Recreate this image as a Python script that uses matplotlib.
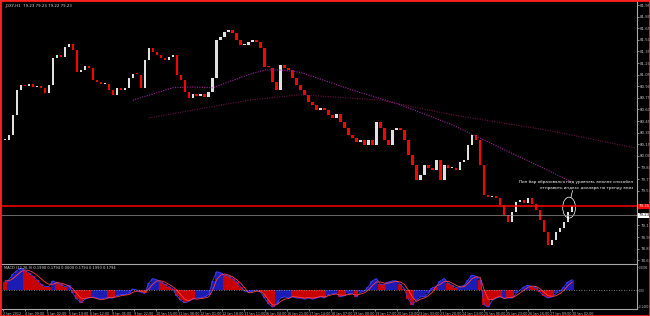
import matplotlib
matplotlib.use('Agg')
import matplotlib.pyplot as plt
from matplotlib.patches import Ellipse, Rectangle
import numpy as np

# _DXY H1, each candle here = 3 hourly bars
closes = [80.20, 80.27, 80.53, 80.85, 80.92, 80.90, 80.93, 80.89, 80.90, 80.88,
          80.81, 80.92, 81.27, 81.30, 81.28, 81.41, 81.45, 81.37, 81.08, 81.11,
          81.16, 81.14, 80.98, 80.95, 80.93, 80.93, 80.85, 80.79, 80.88, 80.85,
          80.88, 81.01, 81.06, 81.05, 80.88, 81.24, 81.39, 81.34, 81.30, 81.27,
          81.24, 81.28, 81.30, 81.05, 80.98, 80.83, 80.75, 80.80, 80.77, 80.80,
          80.76, 80.83, 81.01, 81.50, 81.54, 81.60, 81.63, 81.59, 81.50, 81.43,
          81.43, 81.47, 81.50, 81.47, 81.39, 81.15, 81.14, 80.95, 80.85, 81.17,
          81.14, 81.11, 81.01, 80.92, 80.85, 80.79, 80.70, 80.66, 80.59, 80.62,
          80.59, 80.53, 80.49, 80.54, 80.44, 80.36, 80.27, 80.23, 80.18, 80.20,
          80.14, 80.20, 80.14, 80.44, 80.36, 80.20, 80.14, 80.33, 80.36, 80.33,
          80.20, 80.01, 79.88, 79.69, 79.75, 79.88, 79.84, 79.82, 79.95, 79.69,
          79.88, 79.84, 79.84, 79.82, 79.92, 79.95, 80.14, 80.27, 80.20, 79.88,
          79.49, 79.47, 79.48, 79.45, 79.36, 79.23, 79.14, 79.27, 79.40, 79.43,
          79.39, 79.45, 79.38, 79.30, 79.17, 79.01, 78.85, 78.91, 79.01, 79.07,
          79.14, 79.27, 79.35]

macd = [0.07, 0.09, 0.14, 0.17, 0.19, 0.17, 0.15, 0.12, 0.09, 0.05,
        0.03, 0.03, 0.08, 0.06, 0.05, 0.03, 0.04, -0.03, -0.08, -0.11,
        -0.08, -0.07, -0.06, -0.07, -0.08, -0.07, -0.07, -0.07, -0.05, -0.04,
        -0.04, -0.03, 0.01, 0.0, -0.02, -0.03, 0.06, 0.10, 0.09, 0.07,
        0.05, 0.03, 0.01, -0.05, -0.09, -0.11, -0.10, -0.08, -0.07, -0.07,
        -0.06, -0.04, 0.08, 0.16, 0.15, 0.13, 0.12, 0.10, 0.07, 0.03,
        -0.01, -0.02, -0.01, 0.0, -0.02, -0.07, -0.12, -0.15, -0.12, -0.07,
        -0.06, -0.07, -0.06, -0.07, -0.07, -0.08, -0.07, -0.08, -0.07, -0.06,
        -0.07, -0.04, -0.03, -0.03, -0.06, -0.05, -0.03, -0.03, -0.06, -0.02,
        -0.01, 0.03, 0.08, 0.10, 0.05, 0.05, 0.07, 0.08, 0.08, 0.05,
        0.01, -0.08, -0.13, -0.09, -0.06, -0.06, -0.03, 0.02, 0.03, 0.08,
        0.10, 0.06, 0.04, 0.02, 0.03, 0.04, 0.09, 0.13, 0.12, 0.09,
        -0.13, -0.15, -0.09, -0.07, -0.06, -0.07, -0.07, -0.07, -0.03, 0.0,
        0.03, 0.04, 0.03, 0.02, -0.02, -0.05, -0.07, -0.06, -0.03, -0.01,
        0.03, 0.07, 0.09]

signal = [0.08, 0.08, 0.10, 0.13, 0.16, 0.175, 0.17, 0.155, 0.13, 0.10,
          0.07, 0.05, 0.05, 0.065, 0.06, 0.05, 0.035, 0.01, -0.03, -0.07,
          -0.075, -0.065, -0.065, -0.075, -0.085, -0.08, -0.065, -0.065, -0.06, -0.05,
          -0.045, -0.04, -0.02, -0.01, -0.01, -0.02, 0.01, 0.05, 0.08, 0.08,
          0.07, 0.05, 0.03, 0.0, -0.04, -0.08, -0.095, -0.075, -0.08, -0.075,
          -0.07, -0.06, 0.0, 0.09, 0.13, 0.14, 0.13, 0.115, 0.09, 0.06,
          0.02, -0.025, -0.02, -0.01, -0.01, -0.04, -0.09, -0.13, -0.13, -0.10,
          -0.08, -0.075, -0.055, -0.06, -0.065, -0.07, -0.065, -0.07, -0.065, -0.055,
          -0.06, -0.05, -0.04, -0.035, -0.045, -0.045, -0.04, -0.035, -0.045, -0.035,
          -0.025, 0.0, 0.04, 0.07, 0.07, 0.06, 0.06, 0.07, 0.075, 0.07,
          0.05, 0.0, -0.06, -0.10, -0.08, -0.07, -0.05, -0.02, 0.035, 0.05,
          0.075, 0.075, 0.06, 0.04, 0.025, 0.03, 0.06, 0.10, 0.115, 0.11,
          0.0, -0.08, -0.085, -0.065, -0.055, -0.075, -0.065, -0.065, -0.05, -0.025,
          0.0, 0.025, 0.035, 0.03, 0.01, -0.02, -0.05, -0.055, -0.05, -0.03,
          0.0, 0.04, 0.07]

fast_ma_idx = [32, 42, 47, 52, 61, 65, 69, 74, 87, 99, 112, 125, 132, 142]
fast_ma = [80.72, 80.88, 80.89, 80.88, 81.05, 81.11, 81.11, 81.08, 80.85, 80.66, 80.40, 80.08, 79.91, 79.66]
slow_ma_idx = [36, 61, 74, 94, 112, 136, 158]
slow_ma = [80.49, 80.72, 80.79, 80.72, 80.53, 80.33, 80.10]

level = 79.35
bid = 79.23
macd_marks = [0.2006, 0.0, -0.1480]
time_labels = ['2 Jan 2012', '4 Jan 09:00', '5 Jan 02:00', '5 Jan 19:00', '6 Jan 12:00',
               '9 Jan 05:00', '9 Jan 22:00', '10 Jan 15:00', '11 Jan 08:00', '12 Jan 01:00',
               '12 Jan 18:00', '13 Jan 11:00', '16 Jan 04:00', '16 Jan 21:00', '17 Jan 14:00',
               '18 Jan 07:00', '19 Jan 00:00', '19 Jan 17:00', '20 Jan 10:00', '23 Jan 03:00',
               '23 Jan 20:00', '24 Jan 13:00', '25 Jan 06:00', '25 Jan 23:00', '26 Jan 16:00',
               '27 Jan 09:00', '30 Jan 02:00']
note = 'Пин бар образовался под уровнем, вполне способен\nотправить индекс доллара по тренду вниз'

W, H = 650, 316
def box(x0, y0, x1, y1):
    return [x0 / W, 1 - y1 / H, (x1 - x0) / W, (y1 - y0) / H]

fig = plt.figure(figsize=(6.5, 3.16), dpi=100, facecolor='black')
ax = fig.add_axes(box(1, 1, 637, 263))
axm = fig.add_axes(box(1, 264, 637, 309), sharex=ax)

grey = '#c0c0c0'
for a in (ax, axm):
    a.set_facecolor('black')
    a.spines['left'].set_visible(False)
    a.spines['right'].set_color('#a8a8a8')
    a.spines['right'].set_linewidth(0.8)
    a.yaxis.tick_right()
    a.tick_params(axis='y', colors=grey, labelsize=2.8, length=1.5, width=0.5, pad=0.8)
ax.spines['top'].set_visible(False)
ax.spines['bottom'].set_visible(False)
for s in ('top', 'bottom'):
    axm.spines[s].set_color('#a8a8a8')
    axm.spines[s].set_linewidth(0.8)

x = np.arange(len(closes))
c = np.array(closes)
o = np.r_[c[0], c[:-1]]
up = c >= o
body = np.where(np.abs(c - o) < 0.012, 0.012, c - o)
ax.bar(x, body, bottom=o, width=0.6, color=np.where(up, '#e0e0e0', '#ff0000'), linewidth=0)

ax.plot(fast_ma_idx, fast_ma, color='#a020a0', ls=(0, (1, 1.2)), lw=0.8)
ax.plot(slow_ma_idx, slow_ma, color='#6a1040', ls=(0, (1, 1.2)), lw=0.8)

ax.axhline(level, color='#ff0000', lw=1.1)
ax.axhline(bid, color='#909090', lw=0.5)

ax.set_xlim(-1, 158.25)
ax.set_ylim(78.614, 82.002)
ticks = np.round(np.arange(78.65, 81.96, 0.15), 2)
ticks = [t for t in ticks if abs(t - level) > 0.06 and abs(t - bid) > 0.06]
ax.set_yticks(ticks)
ax.set_yticklabels(['%.2f' % t for t in ticks])
ax.tick_params(axis='x', bottom=False, labelbottom=False)

ytr = ax.get_yaxis_transform()
ax.text(1.002, level, '%.2f' % level, transform=ytr, ha='left', va='center', fontsize=2.8,
        color='white', bbox=dict(boxstyle='square,pad=0.15', fc='#ff0000', ec='none'), clip_on=False)
ax.text(1.002, bid, '%.2f' % bid, transform=ytr, ha='left', va='center', fontsize=2.8,
        color='black', bbox=dict(boxstyle='square,pad=0.15', fc='white', ec='none'), clip_on=False)

ax.text(0.005, 0.992, '_DXY,H1  79.23 79.23 79.22 79.23', transform=ax.transAxes,
        fontsize=2.8, color='#d8d8d8', va='top', ha='left')

# annotation around the last candle
n = len(closes)
ax.add_patch(Ellipse((n - 1.75, closes[-1] - 0.02), 3.2, 0.27, fill=False, ec='white', lw=0.5))
ax.plot([n - 1.3, n - 0.9], [closes[-1] + 0.11, closes[-1] + 0.2], color='white', lw=0.5)
ax.text(0.994, 0.298, note, transform=ax.transAxes, ha='right', va='center', fontsize=3.0,
        color='white', multialignment='right', linespacing=1.8)

# MACD panel
col = np.where(np.array(macd) > np.array(signal), '#1c1cb4', '#c80000')
axm.bar(x, macd, width=1.0, color=col, linewidth=0)
axm.plot(x, macd, color='#4040ff', lw=0.6)
axm.plot(x, signal, color='#ff4040', lw=0.6)
axm.axhline(0, color='#a0a0a0', ls=(0, (1, 2)), lw=0.6)
axm.set_ylim(-0.1656, 0.2268)
axm.set_yticks(macd_marks)
axm.set_yticklabels(['%.4f' % macd_marks[0], '0.00', '%.4f' % macd_marks[2]])
axm.tick_params(axis='y', labelsize=2.0, length=1, pad=0.3)
axm.text(0.005, 0.96, 'MACD (12,26,9) 0.1990 0.1794 0.0000 0.1794 0.1990 0.1794',
         transform=axm.transAxes, fontsize=2.6, color='#d8d8d8', va='top', ha='left')

pos = -0.5 + 5.475 * np.arange(len(time_labels))
axm.set_xticks(pos)
axm.set_xticklabels(time_labels)
axm.tick_params(axis='x', colors=grey, labelsize=2.4, length=1.5, width=0.5, pad=0.4)
for lab in axm.get_xticklabels():
    lab.set_ha('left')

fig.patches.append(Rectangle((0, 0), 1, 1, transform=fig.transFigure, fill=False,
                             edgecolor='#ff2020', linewidth=2.0))

fig.savefig('out.png', dpi=100, facecolor='black')
